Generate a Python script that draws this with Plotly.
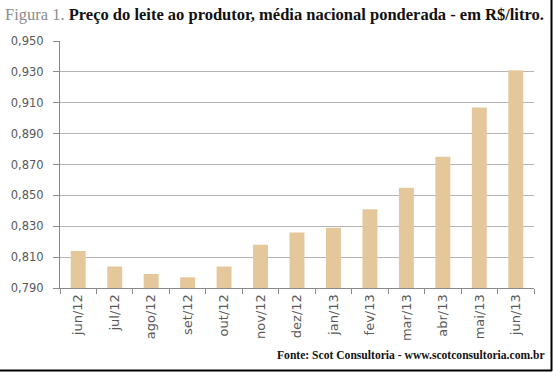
import plotly.graph_objects as go

categories = ["jun/12", "jul/12", "ago/12", "set/12", "out/12", "nov/12", "dez/12",
              "jan/13", "fev/13", "mar/13", "abr/13", "mai/13", "jun/13"]
precos = [0.814, 0.804, 0.799, 0.797, 0.804, 0.818, 0.826,
          0.829, 0.841, 0.855, 0.875, 0.907, 0.931]
y_ticks = [0.790, 0.810, 0.830, 0.850, 0.870, 0.890, 0.910, 0.930, 0.950]

W, H = 553, 372
L, R, T, B = 60, 534, 41, 288

def px(x):
    return (x - L) / (R - L)

def py(y):
    return (B - y) / (B - T)

fig = go.Figure(go.Bar(x=categories, y=precos, marker=dict(color="#E4C89C", line=dict(width=0))))

axis_gray = "#8a8a8a"
fig.update_layout(
    width=W, height=H,
    margin=dict(l=L, r=W - R, t=T, b=H - B, pad=0),
    paper_bgcolor="white", plot_bgcolor="white",
    separators=", ",
    bargap=0.59,
    showlegend=False,
    xaxis=dict(
        showline=True, linecolor=axis_gray, linewidth=1,
        ticks="outside", tickson="boundaries", ticklen=5, tickcolor=axis_gray,
        tickangle=-90, tickfont=dict(family="DejaVu Sans", size=13, color="#595959"),
        showgrid=False, automargin=False,
    ),
    yaxis=dict(
        range=[0.790, 0.950], tickvals=y_ticks, tickformat=".3f",
        showline=True, linecolor=axis_gray, linewidth=1,
        ticks="outside", ticklen=6, tickcolor=axis_gray,
        showgrid=True, gridcolor="#b4b4b4", gridwidth=1,
        zeroline=False, automargin=False,
        tickfont=dict(family="DejaVu Sans", size=11.5, color="#595959"),
        ticklabelstandoff=7,
    ),
    font=dict(family="DejaVu Sans"),
)

fig.add_annotation(
    text='<span style="color:#8c8c8c">Figura 1.</span> <b>Preço do leite ao produtor, média nacional ponderada - em R$/litro.</b>',
    xref="paper", yref="paper", x=px(3), y=py(15), xanchor="left", yanchor="middle",
    showarrow=False, font=dict(family="Liberation Serif", size=16.5, color="#111111"),
)
fig.add_annotation(
    text="<b>Fonte: Scot Consultoria - www.scotconsultoria.com.br</b>",
    xref="paper", yref="paper", x=px(547), y=py(355), xanchor="right", yanchor="middle",
    showarrow=False, font=dict(family="Liberation Serif", size=11.6, color="#111111"),
)

# frame edges (right and bottom)
fig.add_shape(type="line", xref="paper", yref="paper", x0=px(551.5), x1=px(551.5), y0=py(0), y1=py(371),
              line=dict(color="black", width=2))
fig.add_shape(type="line", xref="paper", yref="paper", x0=px(0), x1=px(552), y0=py(370.5), y1=py(370.5),
              line=dict(color="black", width=2))

fig.write_html("out.html", config={"displayModeBar": False},
               post_script="document.body.style.margin='0';document.body.style.padding='0';")
